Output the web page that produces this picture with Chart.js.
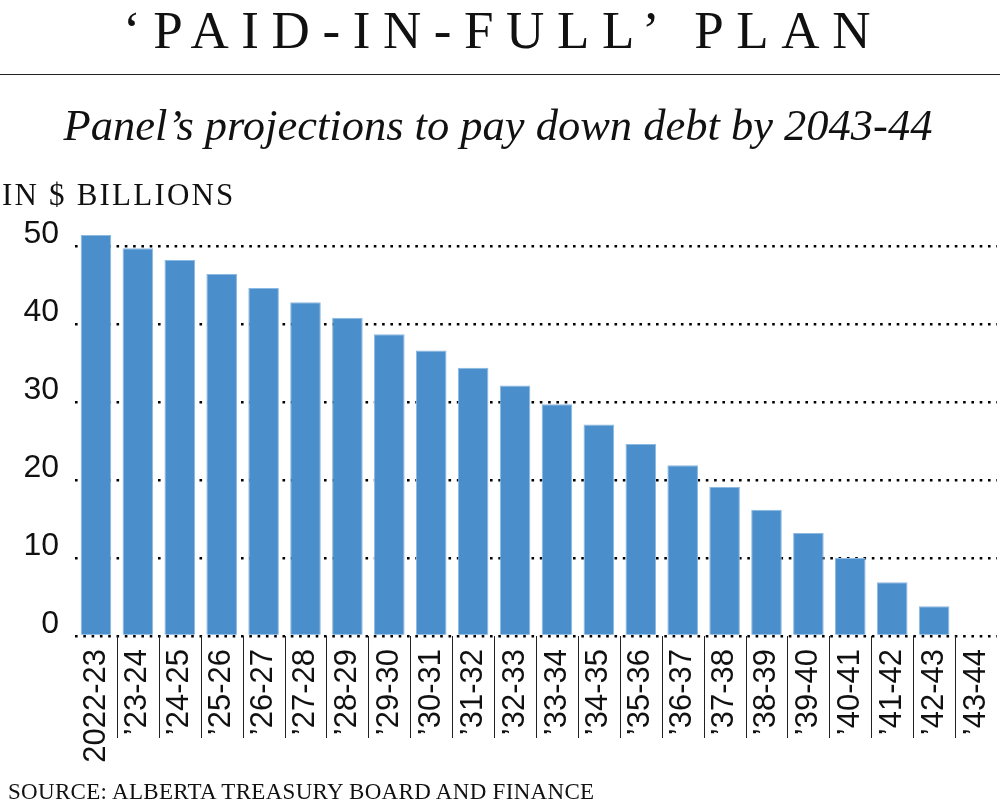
<!DOCTYPE html>
<html>
<head>
<meta charset="utf-8">
<script src="https://cdn.jsdelivr.net/npm/chart.js@4/dist/chart.umd.min.js"></script>
<style>
  html, body { margin: 0; padding: 0; background: #fff; }
  #wrap { position: relative; width: 1000px; height: 801px; overflow: hidden; }
  canvas { position: absolute; left: 0; top: 0; }
  .t { position: absolute; white-space: nowrap; color: #111; font-family: "Liberation Serif", serif; }
  #title { left: 0; width: 1000px; text-align: center; top: 4px; font-size: 53px; line-height: 53px; letter-spacing: 12.6px; text-indent: 6px; }
  #rule { position: absolute; left: 0; top: 74px; width: 1000px; height: 1px; background: #222; }
  #sub { left: 0; width: 1000px; text-align: center; top: 103px; font-size: 44.5px; line-height: 44px; font-style: italic; text-indent: -4px; }
  #unit { left: 2px; top: 179px; font-size: 31px; line-height: 31px; letter-spacing: 2.2px; }
  #src { left: 8px; top: 780px; font-size: 23px; line-height: 23px; letter-spacing: 0.3px; }
</style>
</head>
<body>
<div id="wrap">
  <canvas id="c" width="1000" height="801"></canvas>
  <div class="t" id="title">‘PAID-IN-FULL’ PLAN</div>
  <div id="rule"></div>
  <div class="t" id="sub">Panel’s projections to pay down debt by 2043-44</div>
  <div class="t" id="unit">IN $ BILLIONS</div>
  <div class="t" id="src">SOURCE: ALBERTA TREASURY BOARD AND FINANCE</div>
</div>
<script>
const categories = ["2022-23","’23-24","’24-25","’25-26","’26-27","’27-28","’28-29","’29-30","’30-31","’31-32","’32-33","’33-34","’34-35","’35-36","’36-37","’37-38","’38-39","’39-40","’40-41","’41-42","’42-43","’43-44"];
const debtBillions = [51.4,49.7,48.2,46.4,44.6,42.8,40.8,38.7,36.6,34.4,32.1,29.7,27.1,24.6,21.9,19.1,16.2,13.2,10.0,6.9,3.8,0];
const yTicks = [0,10,20,30,40,50];

const separators = {
  id: 'separators',
  afterDraw(chart) {
    const xs = chart.scales.x;
    const ctx = chart.ctx;
    const top = chart.chartArea.bottom;
    ctx.save();
    ctx.strokeStyle = '#222';
    ctx.lineWidth = 1;
    for (let i = 1; i < categories.length; i++) {
      const x = Math.round((xs.getPixelForValue(i - 1) + xs.getPixelForValue(i)) / 2) + 0.5;
      ctx.beginPath();
      ctx.moveTo(x, top);
      ctx.lineTo(x, top + 102);
      ctx.stroke();
    }
    ctx.restore();
  }
};

new Chart(document.getElementById('c'), {
  type: 'bar',
  data: {
    labels: categories,
    datasets: [{
      data: debtBillions,
      backgroundColor: '#4a8fcb',
      borderColor: '#8cb9e2',
      borderWidth: 1,
      barPercentage: 0.73,
      categoryPercentage: 1,
      clip: false
    }]
  },
  options: {
    responsive: false,
    animation: false,
    devicePixelRatio: 1,
    layout: { padding: { top: 246, left: 0, right: 3, bottom: 0 } },
    plugins: { legend: { display: false }, tooltip: { enabled: false } },
    scales: {
      x: {
        grid: { display: false },
        border: { display: false },
        afterFit(scale) {
          scale.height = 165;
          scale.paddingLeft = 0;
          scale.paddingRight = 0;
        },
        ticks: {
          autoSkip: false,
          maxRotation: 90,
          minRotation: 90,
          padding: 5,
          color: '#111',
          font: { family: 'Liberation Sans', size: 31 }
        }
      },
      y: {
        min: 0,
        max: 50,
        z: 1,
        afterFit(scale) { scale.width = 75; },
        afterBuildTicks(scale) { scale.ticks = yTicks.map(v => ({ value: v })); },
        grid: { color: '#000', lineWidth: 2.6, drawTicks: false },
        border: { display: false, dash: [2.6, 5.7] },
        ticks: {
          padding: 16,
          labelOffset: -12,
          color: '#111',
          font: { family: 'Liberation Sans', size: 32 }
        }
      }
    }
  },
  plugins: [separators]
});
</script>
</body>
</html>
